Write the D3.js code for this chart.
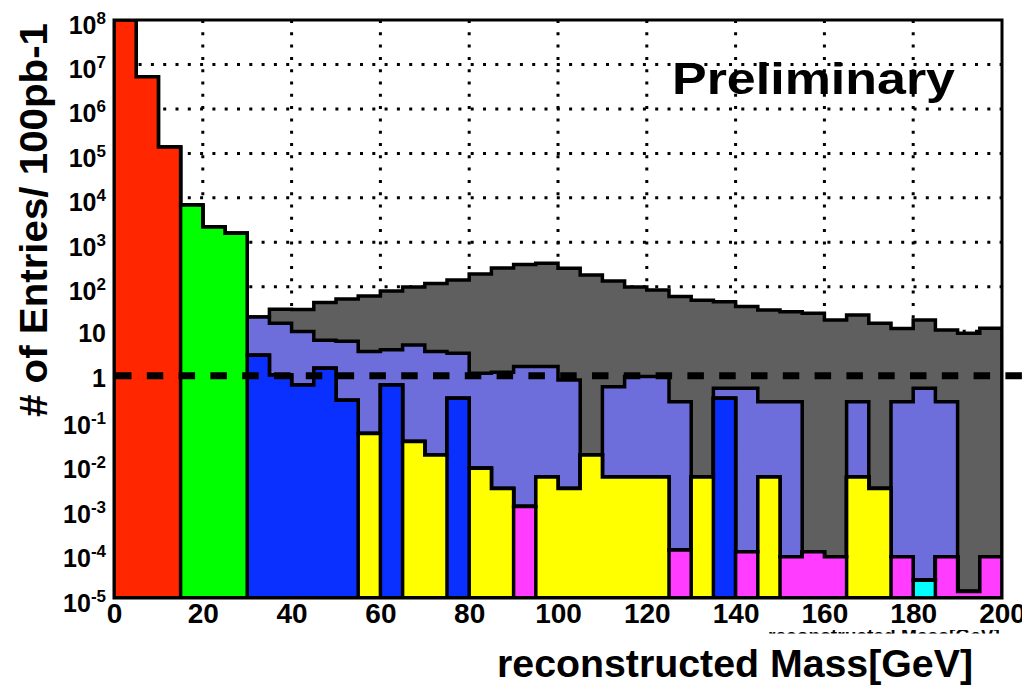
<!DOCTYPE html>
<html>
<head>
<meta charset="utf-8">
<script src="https://cdn.jsdelivr.net/npm/d3@7"></script>
<style>
  html, body { margin: 0; padding: 0; background: #fff; }
  svg { display: block; }
  text { font-family: "Liberation Sans", Arial, Helvetica, sans-serif; font-weight: bold; fill: #000; }
</style>
</head>
<body>
<svg id="chart" width="1022" height="689"></svg>
<script>
// ---------------- DATA ----------------
const binWidth = 5;            // GeV
const nBins = 40;              // 0..200 GeV
const xTicks = [0, 20, 40, 60, 80, 100, 120, 140, 160, 180, 200];
const yTickExps = [-5, -4, -3, -2, -1, 0, 1, 2, 3, 4, 5, 6, 7, 8];
const xTitle = "reconstructed Mass[GeV]";
const yTitle = "# of Entries/ 100pb-1";
const label = "Preliminary";

// per-bin contents of each stacked component (0 = empty bin)
const redVals = [1.2e8, 5.3e6, 1.4e5, 0, 0, 0, 0, 0, 0, 0,
                 0, 0, 0, 0, 0, 0, 0, 0, 0, 0,
                 0, 0, 0, 0, 0, 0, 0, 0, 0, 0,
                 0, 0, 0, 0, 0, 0, 0, 0, 0, 0];
const greenVals = [0, 0, 0, 6.9e3, 2.2e3, 1.6e3, 0, 0, 0, 0,
                   0, 0, 0, 0, 0, 0, 0, 0, 0, 0,
                   0, 0, 0, 0, 0, 0, 0, 0, 0, 0,
                   0, 0, 0, 0, 0, 0, 0, 0, 0, 0];
const blueVals = [0, 0, 0, 0, 0, 0, 2.9, 1.04, 0.62, 1.47,
                  0.28, 0, 0.62, 0, 0, 0.31, 0, 0, 0, 0,
                  0, 0, 0, 0, 0, 0, 0, 0.31, 0, 0,
                  0, 0, 0, 0, 0, 0, 0, 0, 0, 0];
const yellowVals = [0, 0, 0, 0, 0, 0, 0, 0, 0, 0,
                    0, 0.05, 0, 0.033, 0.0165, 0, 8.3e-3, 2.9e-3, 0, 5.3e-3,
                    2.9e-3, 0.0165, 5.3e-3, 5.3e-3, 5.3e-3, 0, 5.3e-3, 0, 0, 5.3e-3,
                    0, 0, 0, 5.3e-3, 2.9e-3, 0, 0, 0, 0, 0];
const magentaVals = [0, 0, 0, 0, 0, 0, 0, 0, 0, 0,
                     0, 0, 0, 0, 0, 0, 0, 0, 1.15e-3, 0,
                     0, 0, 0, 0, 0, 1.2e-4, 0, 0, 1.1e-4, 0,
                     8.5e-5, 1.1e-4, 8.5e-5, 0, 0, 8.5e-5, 0, 8.5e-5, 1.4e-5, 8.5e-5];
const cyanVals = [0, 0, 0, 0, 0, 0, 0, 0, 0, 0,
                  0, 0, 0, 0, 0, 0, 0, 0, 0, 0,
                  0, 0, 0, 0, 0, 0, 0, 0, 0, 0,
                  0, 0, 0, 0, 0, 0, 2.5e-5, 0, 0, 0];
const lavenderVals = [0, 0, 0, 0, 0, 0, 18, 14, 9.2, 4.8,
                      5.7, 3.45, 3.2, 4.9, 3.5, 2.9, 1.12, 1.2, 1.6, 1.6,
                      0.8, 0, 0.56, 0.95, 0.95, 0.26, 0, 0.21, 0.52, 0.255,
                      0.26, 0, 0, 0.255, 0, 0.26, 0.52, 0.26, 0, 0];
const grayVals = [0, 0, 0, 0, 0, 0, 0, 16, 21, 38,
                  47, 58.5, 76, 94, 115, 139, 193, 263, 315, 335,
                  259, 184, 134, 98, 84, 60, 50, 45.5, 35.5, 29.7,
                  27.2, 25.3, 17.9, 22.9, 15.1, 11.3, 17.4, 10.4, 9.0, 11.6];

const seriesKeys = ["cyan", "magenta", "yellow", "blue", "green", "red", "lavender", "gray"]; // bottom -> top
const seriesData = { cyan: cyanVals, magenta: magentaVals, yellow: yellowVals, blue: blueVals,
                     green: greenVals, red: redVals, lavender: lavenderVals, gray: grayVals };
const colors = { cyan: "#00ffff", magenta: "#ff3cff", yellow: "#ffff00", blue: "#0a30ff",
                 green: "#00ff00", red: "#ff2600", lavender: "#6d6ddc", gray: "#5f5f5f" };

// ---------------- LAYOUT ----------------
const svg = d3.select("#chart");
const L = 114, R = 1002, T = 20, B = 598;
const yMin = 1e-5, yMax = 1e8;
const x = d3.scaleLinear().domain([0, nBins * binWidth]).range([L, R]);
const y = d3.scaleLog().domain([yMin, yMax]).range([B, T]).clamp(true);

const defs = svg.append("defs");
defs.append("clipPath").attr("id", "plotclip")
  .append("rect").attr("x", L).attr("y", T).attr("width", R - L).attr("height", B - T);
defs.append("clipPath").attr("id", "fragclip")
  .append("rect").attr("x", 700).attr("y", 630).attr("width", 322).attr("height", 3.5);

// grid (behind histograms)
const grid = svg.append("g").attr("stroke", "#000").attr("stroke-width", 3)
  .attr("stroke-dasharray", "3 9.3").attr("fill", "none");
yTickExps.filter(e => e > -5 && e < 8).forEach(e => {
  grid.append("line").attr("x1", L).attr("x2", R).attr("y1", y(Math.pow(10, e))).attr("y2", y(Math.pow(10, e)));
});
xTicks.filter(t => t > 0 && t < 200).forEach(t => {
  grid.append("line").attr("x1", x(t)).attr("x2", x(t)).attr("y1", T).attr("y2", B);
});

// stacked histograms
const rows = d3.range(nBins).map(i => {
  const r = {};
  seriesKeys.forEach(k => r[k] = seriesData[k][i]);
  return r;
});
const stacked = d3.stack().keys(seriesKeys)(rows);
const line = d3.line().x(d => d[0]).y(d => d[1]);

const hg = svg.append("g").attr("clip-path", "url(#plotclip)");
stacked.slice().reverse().forEach(layer => {
  const pts = [[x(0), y(yMin)]];
  layer.forEach((d, i) => {
    const top = Math.max(d[1], yMin);
    pts.push([x(i * binWidth), y(top)]);
    pts.push([x((i + 1) * binWidth), y(top)]);
  });
  pts.push([x(nBins * binWidth), y(yMin)]);
  hg.append("path")
    .attr("d", line(pts) + "Z")
    .attr("fill", colors[layer.key])
    .attr("stroke", "#000")
    .attr("stroke-width", 3.5)
    .attr("stroke-linejoin", "miter");
});

// dashed reference line at 1
svg.append("line")
  .attr("x1", L + 1).attr("x2", 1030)
  .attr("y1", y(1)).attr("y2", y(1))
  .attr("stroke", "#000").attr("stroke-width", 7)
  .attr("stroke-dasharray", "16.5 15.3");

// frame
svg.append("rect").attr("x", L).attr("y", T).attr("width", R - L).attr("height", B - T)
  .attr("fill", "none").attr("stroke", "#000").attr("stroke-width", 3);

// x axis labels
const xAxis = d3.axisBottom(x).tickValues(xTicks).tickSize(0).tickPadding(0).tickFormat(d3.format("d"));
const xg = svg.append("g").attr("transform", `translate(0,${B})`).call(xAxis);
xg.select(".domain").remove();
xg.selectAll("text").attr("font-size", 28).attr("dy", null).attr("y", 25)
  .attr("font-family", "'Liberation Sans', Arial, sans-serif").attr("font-weight", "bold").attr("fill", "#000");

// y axis labels
const yAxis = d3.axisLeft(y).tickValues(yTickExps.map(e => Math.pow(10, e))).tickSize(0).tickFormat("");
const yg = svg.append("g").attr("transform", `translate(${L},0)`).call(yAxis);
yg.select(".domain").remove();
yg.selectAll(".tick").each(function (d) {
  const e = Math.round(Math.log10(d));
  const t = d3.select(this).append("text")
    .attr("x", -8).attr("text-anchor", "end").attr("font-size", 25);
  if (e === 0 || e === 1) {
    t.attr("y", 10.5).text(e === 0 ? "1" : "10");
  } else {
    t.attr("y", 13);
    t.append("tspan").text("10");
    t.append("tspan").attr("font-size", 17).attr("dy", -10).text(String(e));
  }
});

// hidden-behind title fragment (only a thin strip of it is visible)
svg.append("text").attr("clip-path", "url(#fragclip)")
  .attr("x", 1000).attr("y", 642).attr("text-anchor", "end").attr("font-size", 19)
  .attr("textLength", 232).attr("lengthAdjust", "spacingAndGlyphs")
  .text(xTitle);

// axis titles
svg.append("text").attr("x", 497).attr("y", 677).attr("font-size", 39.5)
  .attr("textLength", 476).attr("lengthAdjust", "spacingAndGlyphs").text(xTitle);
svg.append("text").attr("transform", "translate(47,220) rotate(-90)")
  .attr("text-anchor", "middle").attr("font-size", 38)
  .attr("textLength", 394).attr("lengthAdjust", "spacingAndGlyphs").text(yTitle);

// Preliminary
svg.append("text").attr("x", 672).attr("y", 94).attr("font-size", 45)
  .attr("textLength", 283).attr("lengthAdjust", "spacingAndGlyphs").text(label);
</script>
</body>
</html>
